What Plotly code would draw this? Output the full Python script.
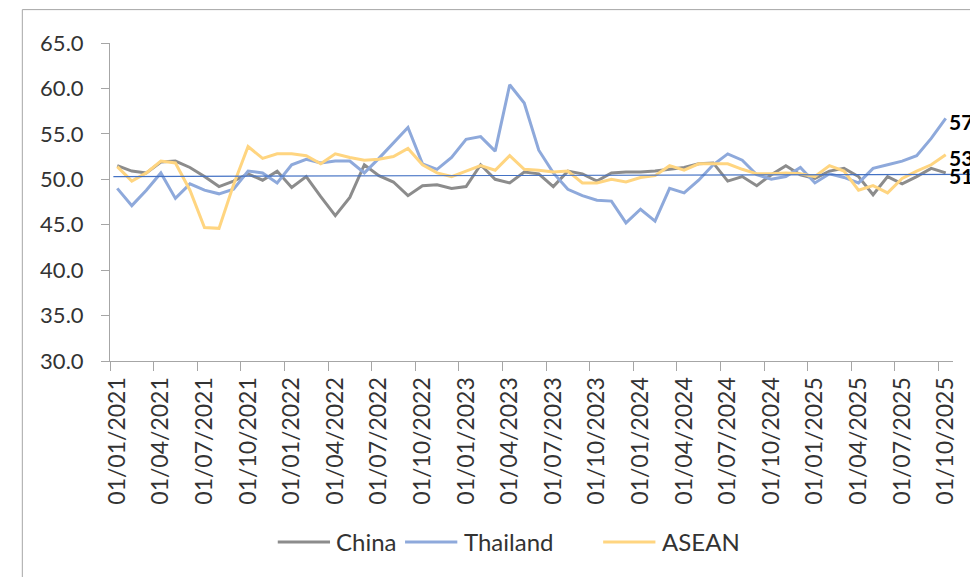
import plotly.graph_objects as go

# monthly PMI readings, Jan 2021 .. Oct 2025
china = [51.5, 50.9, 50.7, 51.9, 52.0, 51.3, 50.3, 49.2, 49.8, 50.6,
         49.9, 50.9, 49.1, 50.3, 48.1, 46.0, 48.0, 51.6, 50.4, 49.7,
         48.2, 49.3, 49.4, 49.0, 49.2, 51.6, 50.0, 49.6, 50.8, 50.6,
         49.2, 50.9, 50.6, 49.8, 50.7, 50.8, 50.8, 50.9, 51.1, 51.3,
         51.7, 51.8, 49.8, 50.3, 49.3, 50.5, 51.5, 50.5, 50.1, 50.9,
         51.2, 50.3, 48.3, 50.3, 49.5, 50.3, 51.2, 50.7]
thailand = [49.0, 47.1, 48.8, 50.7, 47.9, 49.5, 48.8, 48.4, 48.9, 50.9,
            50.7, 49.6, 51.6, 52.2, 51.8, 52.0, 52.0, 50.7, 52.3, 54.0,
            55.7, 51.7, 51.1, 52.4, 54.4, 54.7, 53.1, 60.4, 58.4, 53.2,
            50.7, 48.9, 48.2, 47.7, 47.6, 45.2, 46.7, 45.4, 49.0, 48.5,
            49.9, 51.6, 52.8, 52.1, 50.5, 50.0, 50.3, 51.3, 49.6, 50.6,
            50.2, 49.6, 51.2, 51.6, 52.0, 52.6, 54.5, 56.7]
asean = [51.4, 49.8, 50.7, 52.0, 51.8, 48.8, 44.7, 44.6, 49.4, 53.6,
         52.3, 52.8, 52.8, 52.6, 51.7, 52.8, 52.4, 52.1, 52.2, 52.5,
         53.4, 51.6, 50.7, 50.3, 50.9, 51.5, 51.0, 52.6, 51.1, 51.0,
         50.8, 50.9, 49.6, 49.6, 50.0, 49.7, 50.2, 50.4, 51.5, 51.0,
         51.7, 51.7, 51.7, 51.1, 50.6, 50.6, 50.7, 50.6, 50.3, 51.5,
         50.9, 48.8, 49.3, 48.5, 50.1, 50.9, 51.6, 52.7]

tick_labels = ["01/01/2021", "01/04/2021", "01/07/2021", "01/10/2021",
               "01/01/2022", "01/04/2022", "01/07/2022", "01/10/2022",
               "01/01/2023", "01/04/2023", "01/07/2023", "01/10/2023",
               "01/01/2024", "01/04/2024", "01/07/2024", "01/10/2024",
               "01/01/2025", "01/04/2025", "01/07/2025", "01/10/2025"]
ref_line = [50.3, 50.55]

FONT = "Lato"
TXT = "#333333"
AXIS = "#A6A6A6"

x = list(range(len(china)))
series = [("China", china, "#8C8C8C"),
          ("Thailand", thailand, "#8EA9DB"),
          ("ASEAN", asean, "#FFD580")]

fig = go.Figure()
for name, vals, color in series:
    fig.add_trace(go.Scatter(x=x, y=vals, name=name, mode="lines",
                             line=dict(color=color, width=3), showlegend=False))

# end-of-line value labels
for name, vals, color in series:
    fig.add_annotation(x=x[-1], y=vals[-1], text=f"<b>{round(vals[-1])}</b>",
                       showarrow=False, xanchor="left", xshift=1, yshift=-3,
                       font=dict(family=FONT, size=21, color="black"))

# legend drawn by hand so the line samples are as long as Excel's
legend_x = [0.199, 0.350, 0.585]
legend_y = -0.569
for (name, vals, color), lx in zip(series, legend_x):
    fig.add_shape(type="line", xref="paper", yref="paper",
                  x0=lx, x1=lx + 0.062, y0=legend_y, y1=legend_y,
                  line=dict(color=color, width=3))
    fig.add_annotation(xref="paper", yref="paper", x=lx + 0.067, y=legend_y,
                       text=name, showarrow=False, xanchor="left", yanchor="middle",
                       font=dict(family=FONT, size=24, color=TXT))

fig.add_shape(type="line", xref="paper", yref="y", x0=0.004, x1=1.03,
              y0=ref_line[0], y1=ref_line[1],
              line=dict(color="#4472C4", width=1.2))

# outer chart border
fig.add_shape(type="rect", xref="paper", yref="paper",
              x0=-0.104, x1=1.026, y0=-0.72, y1=1.105,
              line=dict(color="#A6A6A6", width=1))

fig.update_xaxes(
    range=[-0.5, len(x) - 0.5],
    tickmode="array", tickvals=x[::3], ticktext=tick_labels,
    tickangle=-90, ticks="", ticklabelstandoff=6,
    tickfont=dict(family=FONT, size=23, color=TXT),
    showline=True, linecolor=AXIS, linewidth=1,
    showgrid=False, zeroline=False,
    minor=dict(tickmode="linear", tick0=-0.5, dtick=3, ticks="outside",
               ticklen=9, tickcolor=AXIS, showgrid=False),
)
fig.update_yaxes(
    range=[30, 65], dtick=5, tickformat=".1f",
    ticks="outside", ticklen=8, tickcolor=AXIS, ticklabelstandoff=13,
    tickfont=dict(family=FONT, size=22, color=TXT),
    showline=True, linecolor=AXIS, linewidth=1,
    showgrid=False, zeroline=False,
)

# page adds 8px body margin, so the figure is 8px smaller
fig.update_layout(
    width=970, height=569,
    margin=dict(l=102, r=25, t=35, b=216, autoexpand=False),
    paper_bgcolor="white", plot_bgcolor="white",
    showlegend=False,
)

fig.write_html("out.html")
